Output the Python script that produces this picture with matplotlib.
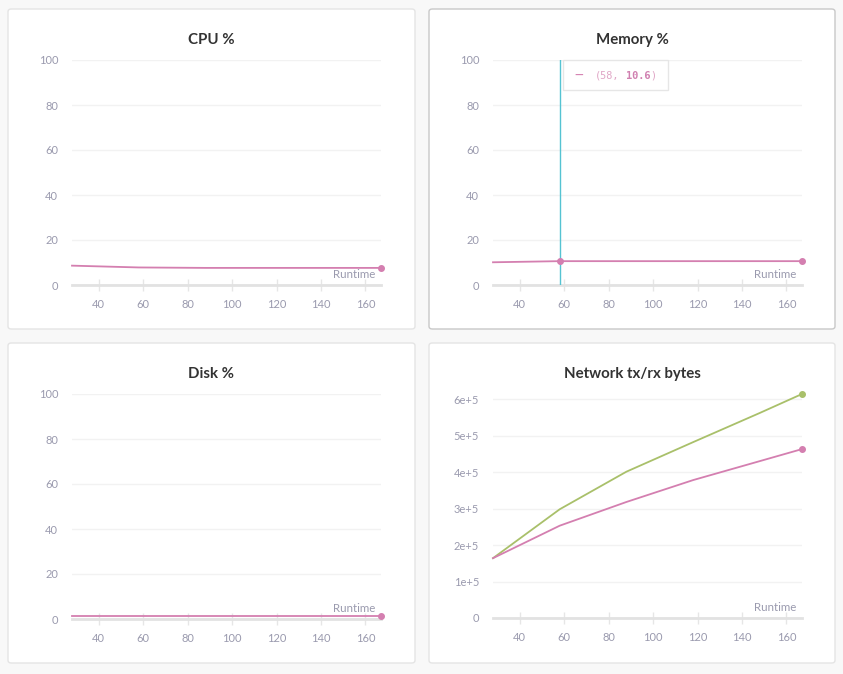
import matplotlib.pyplot as plt
from matplotlib.patches import FancyBboxPatch, Rectangle
from matplotlib.ticker import FuncFormatter

# data
runtime = [28, 58, 88, 118, 148, 167]
cpu = [8.6, 7.8, 7.6, 7.6, 7.6, 7.6]
memory = [10.1, 10.6, 10.6, 10.6, 10.6, 10.6]
disk = [1.4, 1.4, 1.4, 1.4, 1.4, 1.4]
net_tx = [1.64e5, 2.53e5, 3.18e5, 3.78e5, 4.30e5, 4.63e5]
net_rx = [1.64e5, 2.98e5, 4.01e5, 4.82e5, 5.62e5, 6.14e5]
xticks = [40, 60, 80, 100, 120, 140, 160]
pct_ticks = [0, 20, 40, 60, 80, 100]
net_ticks = [0, 1e5, 2e5, 3e5, 4e5, 5e5, 6e5]
hover = (58, 10.6)

PINK = '#d47fb0'
GREEN = '#a9c06a'
TEAL = '#55c3d2'
TICK = '#9a9aae'

plt.rcParams['font.family'] = ['Lato', 'DejaVu Sans']
W, H = 843, 674
fig = plt.figure(figsize=(W / 100, H / 100), dpi=100)
fig.patch.set_facecolor('#f8f8f8')


def fx(px):
    return px / W


def fy(py):
    return 1 - py / H


# panels: (left, top, right, bottom) in pixels, border colour
panels = [(8, 9, 415, 329, '#e4e4e4'), (429, 9, 835, 329, '#c8c8c8'),
          (8, 343, 415, 663, '#e4e4e4'), (429, 343, 835, 663, '#e4e4e4')]
for l, t, r, b, ec in panels:
    fig.patches.append(FancyBboxPatch((fx(l), fy(b)), fx(r - l), (b - t) / H,
                                      boxstyle='round,pad=0,rounding_size=0.004',
                                      transform=fig.transFigure, fc='white',
                                      ec=ec, lw=1, zorder=-5))

titles = ['CPU %', 'Memory %', 'Disk %', 'Network tx/rx bytes']
title_pos = [(211, 40), (632, 40), (211, 374), (632, 374)]
axes_box = [(72, 60, 381, 285), (493, 60, 802, 285),
            (72, 394, 381, 619), (493, 394, 802, 618)]

axes = []
for (l, t, r, b), title, (tx, ty) in zip(axes_box, titles, title_pos):
    ax = fig.add_axes([fx(l), fy(b), fx(r - l), (b - t) / H])
    ax.set_facecolor('none')
    for s in ax.spines.values():
        s.set_visible(False)
    ax.set_xlim(28, 167)
    ax.set_xticks(xticks)
    ax.tick_params(axis='x', direction='inout', length=8, width=1,
                   color='#e6e6e6', labelcolor=TICK, labelsize=8, pad=6)
    ax.tick_params(axis='y', length=0, labelcolor=TICK, labelsize=8, pad=10)
    ax.axhline(0, color='#e2e2e2', lw=2, zorder=1, clip_on=False)
    ax.grid(axis='y', color='#f2f2f2', lw=1)
    ax.set_axisbelow(True)
    ax.annotate('Runtime', xy=(1, 0), xycoords='axes fraction',
                xytext=(-4, 7.5), textcoords='offset points',
                ha='right', va='center', fontsize=8.3, color=TICK)
    fig.text(fx(tx), fy(ty), title, ha='center', va='center',
             fontsize=10.8, fontweight='bold', color='#333333')
    axes.append(ax)

for ax, vals in zip(axes[:3], [cpu, memory, disk]):
    ax.set_ylim(0, 100)
    ax.set_yticks(pct_ticks)
    ax.plot(runtime, vals, color=PINK, lw=1.3, zorder=3, clip_on=False)
    ax.plot(runtime[-1], vals[-1], 'o', color=PINK, ms=4, zorder=4, clip_on=False)

# hover state on memory panel
axm = axes[1]
axm.axvline(hover[0], color=TEAL, lw=1, zorder=2)
axm.plot(*hover, 'o', color=PINK, ms=4, zorder=4)
fig.patches.append(Rectangle((fx(563), fy(90)), fx(105), 30 / H,
                             transform=fig.transFigure, fc='white',
                             ec='#e6e6e6', lw=1, zorder=5))
fig.text(fx(579), fy(75), '\u2014', color=PINK, fontsize=8, ha='center',
         va='center', fontweight='bold', zorder=6)
fs = 7.4
cw = 0.602 * fs * 100 / 72
x0 = 595
fig.text(fx(x0), fy(76), '(58,', color='#e0a6c6', fontsize=fs,
         family='DejaVu Sans Mono', va='center', zorder=6)
fig.text(fx(x0 + 5 * cw), fy(76), '10.6', color='#d080b0', fontsize=fs,
         family='DejaVu Sans Mono', fontweight='bold', va='center', zorder=6)
fig.text(fx(x0 + 9 * cw), fy(76), ')', color='#e0a6c6', fontsize=fs,
         family='DejaVu Sans Mono', va='center', zorder=6)

axn = axes[3]
axn.set_ylim(0, 6.14e5)
axn.set_yticks(net_ticks)
axn.yaxis.set_major_formatter(FuncFormatter(lambda v, p: '0' if v == 0 else '%de+5' % round(v / 1e5)))
axn.plot(runtime, net_rx, color=GREEN, lw=1.3, zorder=3, clip_on=False)
axn.plot(runtime, net_tx, color=PINK, lw=1.3, zorder=3, clip_on=False)
axn.plot(runtime[-1], net_rx[-1], 'o', color=GREEN, ms=4, zorder=4, clip_on=False)
axn.plot(runtime[-1], net_tx[-1], 'o', color=PINK, ms=4, zorder=4, clip_on=False)

plt.savefig('out.png', dpi=100, facecolor=fig.get_facecolor())
